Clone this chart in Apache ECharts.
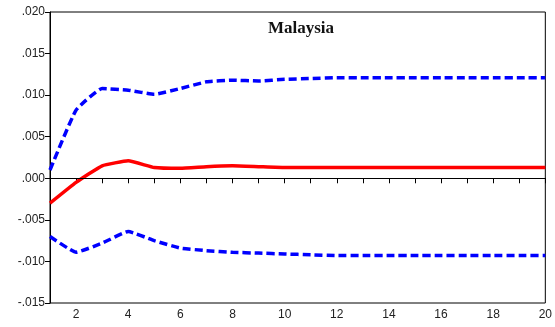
<!DOCTYPE html>
<html>
<head>
<meta charset="utf-8">
<script src="https://cdn.jsdelivr.net/npm/echarts@6/dist/echarts.min.js"></script>
<style>
  html, body { margin: 0; padding: 0; background: #fff; }
  #chart { width: 555px; height: 327px; }
</style>
</head>
<body>
<div id="chart"></div>
<script>
const periods = [1, 2, 3, 4, 5, 6, 7, 8, 9, 10, 11, 12, 13, 14, 15, 16, 17, 18, 19, 20];
const response = [-0.0030, -0.0005, 0.0015, 0.0021, 0.0013, 0.0012, 0.0014, 0.0015, 0.0014, 0.0013,
  0.0013, 0.0013, 0.0013, 0.0013, 0.0013, 0.0013, 0.0013, 0.0013, 0.0013, 0.0013];
const upperBand = [0.0010, 0.0082, 0.0108, 0.0106, 0.0101, 0.0108, 0.0116, 0.0118, 0.0117, 0.0119,
  0.0120, 0.0121, 0.0121, 0.0121, 0.0121, 0.0121, 0.0121, 0.0121, 0.0121, 0.0121];
const lowerBand = [-0.0070, -0.0089, -0.0078, -0.0064, -0.0075, -0.0084, -0.0087, -0.0089, -0.0090, -0.0091,
  -0.0092, -0.0093, -0.0093, -0.0093, -0.0093, -0.0093, -0.0093, -0.0093, -0.0093, -0.0093];

const pairs = vals => periods.map((p, i) => [p, vals[i]]);

const chart = echarts.init(document.getElementById("chart"));

const fmtY = v => {
  const s = Math.abs(v).toFixed(3).replace(/^0/, "");
  return v < -1e-9 ? "-" + s : s;
};

const option = {
  animation: false,
  title: {
    text: "Malaysia",
    left: 296,
    top: 15,
    textAlign: "center",
    textStyle: {
      fontFamily: "Liberation Serif",
      fontWeight: "bold",
      fontSize: 17,
      color: "#111"
    }
  },
  grid: {
    left: 50,
    right: 7,
    top: 12,
    bottom: 24,
    show: true,
    borderColor: "#000",
    borderWidth: 1
  },
  xAxis: {
    type: "value",
    min: 1,
    max: 20,
    interval: 1,
    axisLine: { lineStyle: { color: "#000" } },
    axisTick: { show: true, length: 5, lineStyle: { color: "#000" } },
    axisLabel: {
      color: "#222",
      fontFamily: "Liberation Sans",
      fontSize: 12,
      margin: 6,
      formatter: v => (v % 2 === 0 ? String(v) : "")
    },
    splitLine: { show: false }
  },
  yAxis: {
    type: "value",
    min: -0.015,
    max: 0.020,
    interval: 0.005,
    axisLine: { show: true, lineStyle: { color: "#000" } },
    axisTick: { show: true, length: 5, lineStyle: { color: "#000" } },
    axisLabel: {
      color: "#222",
      fontFamily: "Liberation Sans",
      fontSize: 12,
      margin: 5,
      formatter: fmtY
    },
    splitLine: { show: false }
  },
  series: [
    {
      name: "upper",
      type: "line",
      data: pairs(upperBand),
      symbol: "none",
      smooth: 0.12,
      lineStyle: { color: "#0000ff", width: 3.5, type: [8, 4] },
      z: 3
    },
    {
      name: "lower",
      type: "line",
      data: pairs(lowerBand),
      symbol: "none",
      smooth: 0.12,
      lineStyle: { color: "#0000ff", width: 3.5, type: [8, 4] },
      z: 3
    },
    {
      name: "response",
      type: "line",
      data: pairs(response),
      symbol: "none",
      smooth: 0.12,
      lineStyle: { color: "#ff0000", width: 3.5 },
      z: 4,
      markLine: {
        silent: true,
        symbol: "none",
        label: { show: false },
        lineStyle: { color: "#000", width: 1, type: "solid" },
        data: [{ yAxis: 0 }]
      }
    }
  ]
};

chart.setOption(option);
</script>
</body>
</html>
